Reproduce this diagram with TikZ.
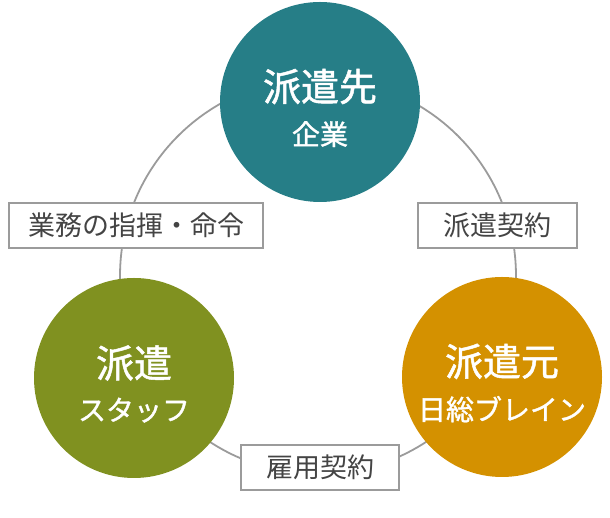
\documentclass[tikz,border=0pt]{standalone}
\usepackage{fontspec}
\setmainfont{Noto Sans CJK JP}
\newfontfamily\hubfont[FakeBold=1.3]{Noto Sans CJK JP}
\usepackage{tikz}
\usetikzlibrary{positioning}

\definecolor{sakiteal}{RGB}{38,126,135}
\definecolor{staffolive}{RGB}{128,145,32}
\definecolor{motogold}{RGB}{212,145,0}
\definecolor{ringgray}{RGB}{155,155,155}
\definecolor{labelgray}{RGB}{68,68,68}

\newcommand{\hubbig}{\fontsize{38}{38}\selectfont}
\newcommand{\hubsmall}{\fontsize{28}{28}\selectfont}

\begin{document}
\begin{tikzpicture}[x=1pt,y=1pt,
        hub/.style={circle,minimum size=200pt,inner sep=0pt,draw=none},
        hubtext/.style={text=white,align=center,inner sep=0pt,font=\hubfont},
        contract/.style={draw=ringgray,line width=2pt,fill=white,text=labelgray,
          minimum height=45pt,inner sep=0pt,font=\fontsize{27}{27}\selectfont},
        ring/.style={draw=ringgray,line width=1.8pt}]
      \useasboundingbox (0,0) rectangle (610,518);

      % ring behind everything
      \coordinate (mid) at (318,242);
      \draw[ring] (mid) circle[radius=198];

      % the three parties
      \node[hub,fill=sakiteal]   (saki)  at (320,416) {};
      \node[hub,fill=staffolive] (staff) at (134,140) {};
      \node[hub,fill=motogold]   (moto)  at (502,141) {};

      \node[hubtext] (saki-t)  at ([yshift=-6pt]saki.center)  {\hubbig 派遣先\\[16pt]\hubsmall 企業};
      \node[hubtext] (staff-t) at ([yshift=-6pt]staff.center) {\hubbig 派遣\\[16pt]\hubsmall スタッフ};
      \node[hubtext] (moto-t)  at ([yshift=-6pt]moto.center)  {\hubbig 派遣元\\[16pt]\hubsmall 日総ブレイン};

      % contracts on the ring
      \node[contract,minimum width=254pt] (order)   at (136,292.5)   {業務の指揮・命令};
      \node[contract,minimum width=159pt] (dispatch) at (497.5,292.5) {派遣契約};
      \node[contract,minimum width=158pt] (employ)  at (320,50.5)    {雇用契約};
    \end{tikzpicture}
\end{document}
